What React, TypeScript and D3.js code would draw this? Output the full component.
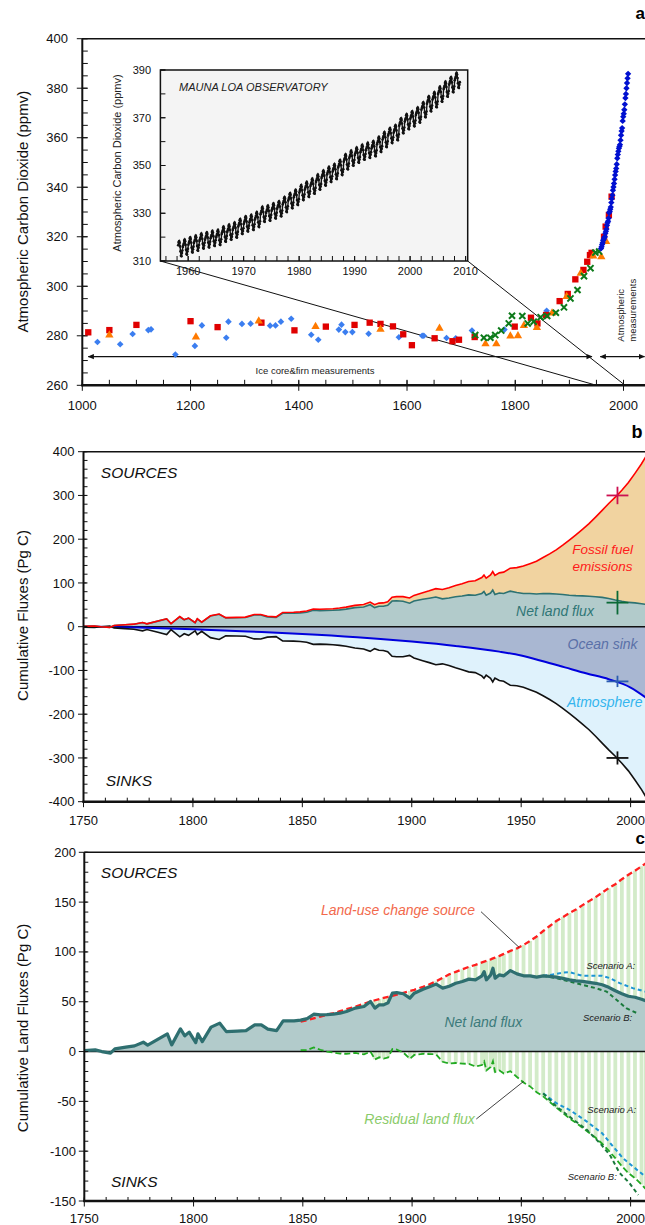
import React, { useRef, useEffect } from 'react';
import * as d3 from 'd3';

const FONT = "'Liberation Sans', Arial, Helvetica, sans-serif";

// ---------- panel a : ice core & firn records (year, ppmv) ----------
const iceBlue: [number, number][] = [
  [1028, 277.5], [1070, 276.6], [1093, 280.7], [1122, 282.3], [1127, 282.6], [1172, 272.4],
  [1208, 275.9], [1221, 284.2], [1266, 279.2], [1270, 285.7], [1295, 284.8], [1311, 284.9],
  [1347, 284.1], [1357, 284.2], [1367, 285.7], [1386, 286.9], [1423, 280.4], [1436, 278.4],
  [1474, 282.5], [1479, 284.5], [1486, 281.5], [1499, 281.5], [1529, 280.8], [1585, 279.4],
  [1628, 280.0], [1631, 280.0], [1673, 279.1], [1690, 279.0], [1720, 282.1], [1780, 282.5],
  [1858, 290.1],
];
const iceRed: [number, number][] = [
  [1011, 281.4], [1050, 282.3], [1100, 284.4], [1200, 285.9], [1250, 283.5], [1331, 285.3],
  [1392, 282.2], [1450, 283.7], [1503, 284.4], [1531, 285.3], [1551, 284.8], [1574, 283.8],
  [1593, 280.6], [1609, 276.2], [1651, 279.0], [1684, 277.8], [1696, 278.4], [1725, 279.5],
  [1799, 283.7], [1829, 287.3], [1841, 285.0], [1857, 288.4], [1882, 294.0], [1897, 296.9],
  [1911, 302.8], [1926, 306.6], [1933, 309.9], [1938, 312.6], [1941, 313.5], [1964, 320.0],
  [1967, 324.1], [1973, 328.8], [1978, 336.2],
];
const iceOrange: [number, number][] = [
  [1050, 280.3], [1210, 279.5], [1326, 285.9], [1431, 283.7], [1551, 282.6], [1660, 283.0],
  [1745, 276.7], [1765, 276.7], [1791, 279.9], [1805, 280.0], [1816, 284.1], [1840, 283.3],
  [1868, 289.2], [1895, 295.8], [1921, 305.2], [1944, 312.2], [1959, 311.9], [1968, 318.0],
];
const iceGreen: [number, number][] = [
  [1726, 280.3], [1742, 279.2], [1754, 279.2], [1763, 280.3], [1774, 282.1], [1788, 285.0],
  [1794, 288.1], [1813, 288.0], [1823, 285.0], [1834, 285.7], [1847, 287.5], [1859, 288.0],
  [1875, 289.3], [1890, 291.5], [1902, 295.1], [1915, 298.5], [1927, 304.1], [1939, 307.3],
  [1948, 313.6], [1955, 314.0],
];

// Mauna Loa annual means 1958-2008 and the mean seasonal cycle (Jan..Dec offsets)
const maunaLoaYears = d3.range(1958, 2009);
const maunaLoaAnnual = [
  315.3, 316.0, 316.9, 317.6, 318.5, 319.0, 319.6, 320.0, 321.4, 322.2,
  323.1, 324.6, 325.7, 326.3, 327.5, 329.7, 330.2, 331.1, 332.0, 333.8,
  335.4, 336.8, 338.8, 340.1, 341.5, 343.2, 344.9, 346.4, 347.6, 349.3,
  351.7, 353.2, 354.5, 355.7, 356.5, 357.2, 359.0, 361.0, 362.7, 363.9,
  366.8, 368.5, 369.7, 371.3, 373.5, 376.0, 377.7, 380.0, 382.1, 384.0,
  385.8,
];
const seasonalCycle = [-0.1, 0.6, 1.3, 2.5, 3.0, 2.3, 0.8, -1.3, -3.1, -3.3, -2.0, -0.9];

const aYearTicks = [1000, 1200, 1400, 1600, 1800, 2000];
const aPpmTicks = [260, 280, 300, 320, 340, 360, 380, 400];
const insetYearTicks = [1960, 1970, 1980, 1990, 2000, 2010];
const insetPpmTicks = [310, 330, 350, 370, 390];

// ---------- panels b & c : cumulative fluxes (Pg C) ----------
const fluxYears = [
  1750, 1755, 1758, 1762, 1764, 1769, 1773, 1777, 1779, 1784, 1788, 1790, 1794, 1796, 1798,
  1801, 1802, 1804, 1808, 1812, 1815, 1820, 1824, 1828, 1831, 1834, 1838, 1841, 1846, 1849,
  1852, 1855, 1858, 1861, 1864, 1867, 1870, 1874, 1878, 1881, 1883, 1885, 1887, 1889, 1891,
  1893, 1896, 1899, 1901, 1905, 1908, 1911, 1914, 1917, 1920, 1923, 1926, 1929, 1932, 1933,
  1934, 1936, 1937, 1938, 1940, 1942, 1945, 1948, 1951, 1954, 1957, 1960, 1963, 1966, 1969,
  1972, 1975, 1978, 1981, 1984, 1987, 1990, 1993, 1996, 1999, 2002, 2005, 2007,
];
const netLandFlux = [
  1.0, 1.7, 0, -1.6, 2.7, 4.4, 5.7, 9.4, 6.4, 12.7, 17.8, 6.7, 22.8, 15.8, 19.5,
  9, 17.8, 10, 24.5, 28.5, 20, 20.5, 21, 26.8, 26.8, 22.5, 21, 30.8, 30.8, 31.5,
  33, 37.5, 36.8, 37, 37.5, 38.5, 40.2, 43.6, 45.2, 50.2, 43.6, 46.9, 46.9, 49, 58.6,
  59.2, 58, 53.6, 58.6, 62.6, 65, 67.7, 63.7, 65.5, 68.5, 70.3, 72.7, 72, 76, 80.3,
  72, 77, 83.7, 73.7, 77, 76, 81.3, 78, 76, 76, 74.7, 76, 75.5, 74.7, 73.5,
  72, 71, 70.5, 69.5, 68.5, 67, 64.5, 61, 58, 55.5, 54.5, 52.5, 51,
];
const fossilFuel = [
  0, 0, 0, 0, 0, 0.1, 0.1, 0.1, 0.1, 0.2, 0.2, 0.2, 0.3, 0.3, 0.3,
  0.4, 0.4, 0.4, 0.5, 0.6, 0.7, 0.8, 0.9, 1.1, 1.2, 1.4, 1.6, 1.8, 2.2, 2.4,
  2.7, 2.9, 3.1, 3.4, 3.7, 4.1, 4.5, 5.1, 5.7, 6.2, 6.6, 7.0, 7.5, 8.0, 8.9,
  9.6, 10.8, 12, 13, 15.2, 17.1, 19.2, 21.2, 23.3, 25.5, 28, 30.5, 33, 36.4, 37.6,
  38.8, 41.2, 42.4, 43.6, 46, 48.7, 52.5, 57, 62.5, 68, 75, 82, 91, 101, 113,
  126, 139, 152, 166, 182, 199, 217, 235, 254, 274, 296, 320, 338,
];
// land-use change source, from 1849 on (null before)
const landUseSource = [
  null, null, null, null, null, null, null, null, null, null, null, null, null, null, null,
  null, null, null, null, null, null, null, null, null, null, null, null, null, null, 30,
  31.5, 33.3, 35, 37, 38.5, 40.5, 42.5, 45, 48, 50.3, 51.5, 52.7, 54, 55, 56,
  57.2, 59, 60.8, 62, 65, 67.5, 70.5, 74, 77.5, 80, 82.5, 85, 87, 89.5, 90.3,
  91, 92.5, 93.5, 94.3, 96, 98, 101, 103.5, 107, 111, 115.5, 121, 126, 131, 135,
  139, 142.5, 147, 151, 155, 159.5, 164, 168, 173, 177.5, 181.5, 186, 189,
];
const oceanYears = [1750, 1775, 1800, 1825, 1850, 1875, 1900, 1920, 1940, 1950, 1960, 1970, 1980, 1990, 2000, 2007];
const oceanSink = [0, -2, -6, -11, -16.5, -24, -34, -44, -57, -66, -79, -93, -107, -120, -139, -162];

// 1994 budget estimates with uncertainties: fossil, land, ocean, atmosphere
const budgetYear = 1994;
const budgetValues = [300, 55, -125, -300];
const budgetErrors = [20, 27, 13, 15];

// land flux scenarios (panel c)
const scenAUpYears = [1960, 1965, 1969, 1972, 1978, 1987, 1990.5, 1995, 2001, 2007];
const scenAUp = [76, 77.5, 79.3, 79.7, 76, 76, 73.7, 68.7, 63.7, 60];
const scenBUpYears = [1960, 1966, 1972, 1978, 1984, 1989, 1993.5, 1998, 2003];
const scenBUp = [76, 73.7, 70.3, 67, 63.7, 60.2, 52, 43.6, 38.5];
const scenALowYears = [1960, 1966, 1972, 1980, 1987, 1992, 1996.5, 2003, 2007];
const scenALow = [-42, -51.8, -58.5, -70.3, -82, -95.4, -107, -118.8, -126];
const scenBLowYears = [1960, 1966, 1972, 1980, 1986, 1990.5, 1995, 1999.5, 2003.5];
const scenBLow = [-42, -55, -65.3, -78.6, -92, -103.7, -122, -132, -144];

const fluxYearTicks = [1750, 1800, 1850, 1900, 1950, 2000];
const bTicks = [-400, -300, -200, -100, 0, 100, 200, 300, 400];
const cTicks = [-150, -100, -50, 0, 50, 100, 150, 200];

// draws ticks, labels and frame lines of one panel
function drawAxes(g: any, x: any, y: any, o: any) {
  const x0 = x.range()[0];
  const yb = y.range()[0];
  const yt = y.range()[1];
  const t = g.append('g').attr('stroke', '#111').attr('stroke-width', 1);
  t.selectAll(null).data(o.xMinor).join('line')
    .attr('x1', (d: number) => x(d)).attr('x2', (d: number) => x(d))
    .attr('y1', yb).attr('y2', yb - o.minorIn);
  t.selectAll(null).data(o.xMajor).join('line')
    .attr('x1', (d: number) => x(d)).attr('x2', (d: number) => x(d))
    .attr('y1', yb - o.majorIn).attr('y2', yb + o.majorOut);
  t.selectAll(null).data(o.yMinor).join('line')
    .attr('x1', x0).attr('x2', x0 + o.minorIn)
    .attr('y1', (d: number) => y(d)).attr('y2', (d: number) => y(d));
  t.selectAll(null).data(o.yMajor).join('line')
    .attr('x1', x0 - o.majorOut).attr('x2', x0 + o.majorIn)
    .attr('y1', (d: number) => y(d)).attr('y2', (d: number) => y(d));

  const lab = g.append('g').attr('font-size', o.fs).attr('fill', '#111');
  lab.selectAll(null).data(o.xMajor).join('text')
    .attr('x', (d: number) => x(d)).attr('y', yb + o.xLabelDy)
    .attr('text-anchor', 'middle').text((d: number) => d);
  lab.selectAll(null).data(o.yLabels).join('text')
    .attr('x', o.yLabelX).attr('y', (d: number) => y(d)).attr('dy', '0.35em')
    .attr('text-anchor', 'end').text((d: number) => d);

  if (o.box) return;
  g.append('line').attr('x1', x0).attr('x2', 700).attr('y1', yt).attr('y2', yt)
    .attr('stroke', '#111').attr('stroke-width', 1.5);
  g.append('line').attr('x1', x0).attr('x2', x0).attr('y1', yt).attr('y2', yb + 1)
    .attr('stroke', '#111').attr('stroke-width', 2);
  g.append('line').attr('x1', x0 - 1).attr('x2', 700).attr('y1', yb).attr('y2', yb)
    .attr('stroke', '#111').attr('stroke-width', 2.5);
}

function yTitle(svg: any, cy: number, text: string) {
  svg.append('text')
    .attr('transform', `translate(22.6,${cy}) rotate(-90)`)
    .attr('dy', '0.35em').attr('text-anchor', 'middle')
    .attr('font-size', 15).attr('fill', '#111').text(text);
}

function italic(g: any, x: number, y: number, text: string, size: number, color: string, anchor = 'middle') {
  g.append('text').attr('x', x).attr('y', y).attr('dy', '0.35em')
    .attr('text-anchor', anchor).attr('font-size', size).attr('font-style', 'italic')
    .attr('fill', color).text(text);
}

function drawPanelA(svg: any) {
  const xA = d3.scaleLinear().domain([1000, 2000]).range([82.3, 623.5]);
  const yA = d3.scaleLinear().domain([260, 400]).range([385.3, 38.7]);
  const g = svg.append('g');

  // arrows for the two measurement periods
  const arrowY = yA(271.6);
  g.append('line').attr('x1', xA(1011)).attr('x2', xA(1942)).attr('y1', arrowY).attr('y2', arrowY)
    .attr('stroke', '#111').attr('stroke-width', 1.3)
    .attr('marker-start', 'url(#arr)').attr('marker-end', 'url(#arr)');
  g.append('line').attr('x1', xA(1957)).attr('x2', xA(2039)).attr('y1', arrowY).attr('y2', arrowY)
    .attr('stroke', '#111').attr('stroke-width', 1.3)
    .attr('marker-start', 'url(#arr)').attr('marker-end', 'url(#arr)');
  g.append('text').attr('x', 315).attr('y', 374).attr('text-anchor', 'middle')
    .attr('font-size', 9.5).attr('fill', '#222').text('Ice core&firn measurements');
  ['Atmospheric', 'measurements'].forEach((s, i) => {
    g.append('text').attr('transform', `translate(${620.8 + i * 11.7},341.7) rotate(-90)`)
      .attr('dy', '0.35em').attr('font-size', 9.5).attr('fill', '#222').text(s);
  });

  // connectors from inset to the main time axis
  const inset = { x0: 160.4, x1: 467.7, y0: 70, y1: 261 };
  g.append('line').attr('x1', inset.x0).attr('y1', inset.y1).attr('x2', xA(1950)).attr('y2', yA(260))
    .attr('stroke', '#111').attr('stroke-width', 1);
  g.append('line').attr('x1', inset.x1).attr('y1', inset.y1).attr('x2', xA(2003)).attr('y2', yA(260))
    .attr('stroke', '#111').attr('stroke-width', 1);

  drawAxes(g, xA, yA, {
    xMajor: aYearTicks, xMinor: d3.range(1000, 2050, 50),
    yMajor: aPpmTicks, yMinor: d3.range(260, 401, 5), yLabels: aPpmTicks,
    majorIn: 5, majorOut: 5.5, minorIn: 5.5, fs: 13, xLabelDy: 25, yLabelX: 68,
  });

  // records
  const pts = g.append('g');
  const plot = (data: [number, number][], type: any, size: number, fill: string, rot = 0, stroke = 'none', sw = 0) =>
    pts.append('g').selectAll(null).data(data).join('path')
      .attr('d', d3.symbol().type(type).size(size))
      .attr('transform', (d: [number, number]) => `translate(${xA(d[0])},${yA(d[1])}) rotate(${rot})`)
      .attr('fill', fill).attr('stroke', stroke).attr('stroke-width', sw);
  plot(iceBlue, d3.symbolSquare, 22, '#3b7ef0', 45);
  plot(iceRed, d3.symbolSquare, 40, '#e00000');
  plot(iceOrange, d3.symbolTriangle, 30, '#ff7a00');
  plot(iceGreen, d3.symbolX, 26, 'none', 0, '#0d7a1a', 2);
  plot(maunaLoaYears.map((yr, i) => [yr + 0.5, maunaLoaAnnual[i]] as [number, number]),
    d3.symbolSquare, 20, '#0010d0', 45);

  // Mauna Loa inset
  const xI = d3.scaleLinear().domain([1955, 2010]).range([160.4, 465.6]);
  const yI = d3.scaleLinear().domain([310, 390]).range([261, 70]);
  const ig = svg.append('g');
  ig.append('rect').attr('x', inset.x0).attr('y', inset.y0)
    .attr('width', inset.x1 - inset.x0).attr('height', inset.y1 - inset.y0)
    .attr('fill', '#f4f4f4').attr('stroke', '#111').attr('stroke-width', 1.5);
  drawAxes(ig, xI, yI, {
    xMajor: insetYearTicks, xMinor: d3.range(1956, 2011, 2),
    yMajor: insetPpmTicks, yMinor: d3.range(310, 391, 10), yLabels: insetPpmTicks,
    majorIn: 5, majorOut: 0, minorIn: 5, fs: 11, xLabelDy: 14, yLabelX: 151, box: true,
  });
  const monthly = maunaLoaYears
    .flatMap((yr, i) => seasonalCycle.map((s, m) => ({ t: yr + (m + 0.5) / 12, v: maunaLoaAnnual[i] + s })))
    .filter(d => d.t > 1958.2);
  ig.append('path').datum(monthly)
    .attr('d', d3.line<any>().x(d => xI(d.t)).y(d => yI(d.v)))
    .attr('fill', 'none').attr('stroke', '#111').attr('stroke-width', 1.4);
  ig.append('g').selectAll(null).data(monthly).join('circle')
    .attr('cx', (d: any) => xI(d.t)).attr('cy', (d: any) => yI(d.v)).attr('r', 1.35).attr('fill', '#111');
  italic(ig, 179, 87.3, 'MAUNA LOA OBSERVATORY', 11, '#222', 'start');
  ig.append('text').attr('transform', 'translate(117,163) rotate(-90)').attr('dy', '0.35em')
    .attr('text-anchor', 'middle').attr('font-size', 11).attr('fill', '#222')
    .text('Atmospheric Carbon Dioxide  (ppmv)');

  yTitle(svg, 211.7, 'Atmospheric Carbon Dioxide  (ppmv)');
  svg.append('text').attr('x', 635.5).attr('y', 19.3).attr('font-size', 17).attr('font-weight', 'bold').text('a');
}

function drawPanelB(svg: any) {
  const xB = d3.scaleLinear().domain([1750, 2000]).range([83.5, 630.6]);
  const yB = d3.scaleLinear().domain([-400, 400]).range([801.7, 451.7]);
  const g = svg.append('g');
  const rows = fluxYears.map((yr, i) => ({ year: yr, land: netLandFlux[i], total: netLandFlux[i] + fossilFuel[i] }));
  const ocean = oceanYears.map((yr, i) => ({ year: yr, v: oceanSink[i] }));

  const area = (acc: (d: any) => number, xs: (d: any) => number) =>
    d3.area<any>().x(xs).y0(yB(0)).y1(d => yB(acc(d)));
  g.append('path').datum(rows).attr('d', area(d => -d.total, d => xB(d.year))).attr('fill', '#dff2fc');
  g.append('path').datum(ocean).attr('d', area(d => d.v, d => xB(d.year)).curve(d3.curveMonotoneX)).attr('fill', '#a9b7d2');
  g.append('path').datum(rows).attr('d', area(d => d.total, d => xB(d.year))).attr('fill', '#f1d3a0');
  g.append('path').datum(rows).attr('d', area(d => d.land, d => xB(d.year))).attr('fill', '#b2cbcb');

  g.append('line').attr('x1', xB(1750)).attr('x2', 700).attr('y1', yB(0)).attr('y2', yB(0))
    .attr('stroke', '#111').attr('stroke-width', 1.5);

  const line = (acc: (d: any) => number) => d3.line<any>().x(d => xB(d.year)).y(d => yB(acc(d)));
  g.append('path').datum(ocean).attr('d', d3.line<any>().x(d => xB(d.year)).y(d => yB(d.v)).curve(d3.curveMonotoneX))
    .attr('fill', 'none').attr('stroke', '#0000dd').attr('stroke-width', 2);
  g.append('path').datum(rows).attr('d', line(d => -d.total))
    .attr('fill', 'none').attr('stroke', '#111').attr('stroke-width', 1.6);
  g.append('path').datum(rows).attr('d', line(d => d.land))
    .attr('fill', 'none').attr('stroke', '#2d7272').attr('stroke-width', 1.6);
  g.append('path').datum(rows).attr('d', line(d => d.total))
    .attr('fill', 'none').attr('stroke', '#ff0000').attr('stroke-width', 1.6);

  const crossColors = ['#cc1050', '#0a6a36', '#2a5cb0', '#111'];
  const cg = g.append('g').attr('stroke-width', 1.8);
  budgetValues.forEach((v, i) => {
    cg.append('line').attr('x1', xB(budgetYear - 5)).attr('x2', xB(budgetYear + 5))
      .attr('y1', yB(v)).attr('y2', yB(v)).attr('stroke', crossColors[i]);
    cg.append('line').attr('x1', xB(budgetYear)).attr('x2', xB(budgetYear))
      .attr('y1', yB(v - budgetErrors[i])).attr('y2', yB(v + budgetErrors[i])).attr('stroke', crossColors[i]);
  });

  drawAxes(g, xB, yB, {
    xMajor: fluxYearTicks, xMinor: d3.range(1750, 2010, 10),
    yMajor: bTicks, yMinor: d3.range(-400, 401, 20), yLabels: bTicks,
    majorIn: 3, majorOut: 5.5, minorIn: 4, fs: 13, xLabelDy: 23.6, yLabelX: 74.5,
  });

  italic(g, 100.8, 472.3, 'SOURCES', 15.5, '#111', 'start');
  italic(g, 105.7, 781, 'SINKS', 15.5, '#111', 'start');
  italic(g, 602.6, 549.3, 'Fossil fuel', 13.5, '#ff1a1a');
  italic(g, 602.6, 566, 'emissions', 13.5, '#ff1a1a');
  italic(g, 555, 611, 'Net land flux', 14, '#2f7676');
  italic(g, 602.6, 644.3, 'Ocean sink', 14, '#5a70a8');
  italic(g, 604.7, 702.3, 'Atmosphere', 14, '#33b5ee');

  yTitle(svg, 615.5, 'Cumulative Fluxes (Pg C)');
  svg.append('text').attr('x', 631.4).attr('y', 438.3).attr('font-size', 18).attr('font-weight', 'bold').text('b');
}

function drawPanelC(svg: any) {
  const xC = d3.scaleLinear().domain([1750, 2000]).range([84.3, 630.6]);
  const yC = d3.scaleLinear().domain([-150, 200]).range([1201, 852.3]);
  const g = svg.append('g');
  const rows = fluxYears.map((yr, i) => ({ year: yr, land: netLandFlux[i], luc: landUseSource[i] }));
  const lucRows = rows.filter(d => d.luc !== null).map(d => ({ ...d, resid: d.land - (d.luc as number) }));

  // stripes spanning the residual sink up to the land-use source
  g.append('g').selectAll(null).data(lucRows).join('line')
    .attr('x1', (d: any) => xC(d.year)).attr('x2', (d: any) => xC(d.year))
    .attr('y1', (d: any) => yC(d.resid)).attr('y2', (d: any) => yC(d.luc))
    .attr('stroke', '#d3ebc9').attr('stroke-width', 3.8);

  g.append('path').datum(rows)
    .attr('d', d3.area<any>().x(d => xC(d.year)).y0(yC(0)).y1(d => yC(d.land)))
    .attr('fill', '#b2cbcb');
  g.append('line').attr('x1', xC(1750)).attr('x2', 700).attr('y1', yC(0)).attr('y2', yC(0))
    .attr('stroke', '#111').attr('stroke-width', 1.5);

  const ln = d3.line<any>().x(d => xC(d[0])).y(d => yC(d[1]));
  const dashed = (pts: [number, number][], color: string, dash: string, w: number) =>
    g.append('path').datum(pts).attr('d', ln).attr('fill', 'none')
      .attr('stroke', color).attr('stroke-width', w).attr('stroke-dasharray', dash);
  dashed(lucRows.map(d => [d.year, d.luc as number]), '#ff1f1f', '6 3.5', 2.3);
  dashed(lucRows.map(d => [d.year, d.resid]), '#22aa22', '6 3', 1.8);
  dashed(scenAUpYears.map((yr, i) => [yr, scenAUp[i]]), '#1c95d4', '4 3', 2);
  dashed(scenBUpYears.map((yr, i) => [yr, scenBUp[i]]), '#1a7a3c', '4 3', 2);
  dashed(scenALowYears.map((yr, i) => [yr, scenALow[i]]), '#1c95d4', '4 3', 2);
  dashed(scenBLowYears.map((yr, i) => [yr, scenBLow[i]]), '#1a7a3c', '4 3', 2);

  g.append('path').datum(rows)
    .attr('d', d3.line<any>().x(d => xC(d.year)).y(d => yC(d.land)))
    .attr('fill', 'none').attr('stroke', '#2e6f70').attr('stroke-width', 3.2)
    .attr('stroke-linejoin', 'round');

  drawAxes(g, xC, yC, {
    xMajor: fluxYearTicks, xMinor: d3.range(1750, 2010, 10),
    yMajor: cTicks, yMinor: d3.range(-150, 201, 10), yLabels: cTicks,
    majorIn: 3, majorOut: 5.5, minorIn: 4, fs: 13, xLabelDy: 21.5, yLabelX: 76,
  });

  // annotations
  g.append('line').attr('x1', 481).attr('y1', 911.7).attr('x2', xC(1949)).attr('y2', yC(104.5))
    .attr('stroke', '#111').attr('stroke-width', 0.8);
  g.append('line').attr('x1', 476.3).attr('y1', 1119).attr('x2', xC(1951)).attr('y2', yC(-30))
    .attr('stroke', '#111').attr('stroke-width', 0.8);
  italic(g, 100.8, 872.3, 'SOURCES', 15.5, '#111', 'start');
  italic(g, 111, 1181.7, 'SINKS', 15.5, '#111', 'start');
  italic(g, 398, 910, 'Land-use change source', 14, '#f2694c');
  italic(g, 483.3, 1021.7, 'Net land flux', 14, '#3b7a7a');
  italic(g, 419.6, 1119.3, 'Residual land flux', 14, '#8acb6a');
  italic(g, 610.8, 965.7, 'Scenario A:', 9.5, '#222');
  italic(g, 607.6, 1017.7, 'Scenario B:', 9.5, '#222');
  italic(g, 611.7, 1109.7, 'Scenario A:', 9.5, '#222');
  italic(g, 592.3, 1176.7, 'Scenario B:', 9.5, '#222');

  yTitle(svg, 1028, 'Cumulative Land Fluxes (Pg C)');
  svg.append('text').attr('x', 635.5).attr('y', 844.3).attr('font-size', 17).attr('font-weight', 'bold').text('c');
}

export default function App() {
  const svgRef = useRef<SVGSVGElement>(null);

  useEffect(() => {
    if (!svgRef.current) return;
    document.body.style.margin = '0';
    const svg = d3.select(svgRef.current);
    svg.selectAll('*').remove();

    svg.append('defs').append('marker')
      .attr('id', 'arr').attr('viewBox', '0 -4 8 8').attr('refX', 7.5).attr('refY', 0)
      .attr('markerWidth', 6).attr('markerHeight', 6).attr('markerUnits', 'userSpaceOnUse')
      .attr('orient', 'auto-start-reverse')
      .append('path').attr('d', 'M0,-3.5L8,0L0,3.5Z').attr('fill', '#111');

    drawPanelA(svg);
    drawPanelB(svg);
    drawPanelC(svg);
  }, []);

  return (
    <svg ref={svgRef} width={645} height={1225}
      style={{ display: 'block', background: '#fff', fontFamily: FONT }} />
  );
}
